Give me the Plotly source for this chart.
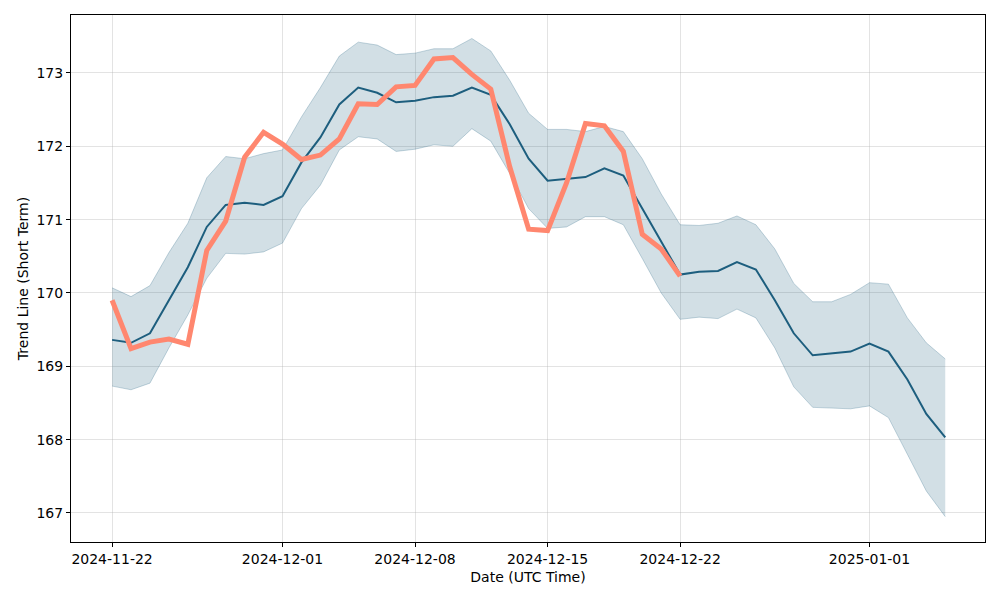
import plotly.graph_objects as go
import pandas as pd

dates = pd.date_range("2024-11-22", periods=45, freq="D").strftime("%Y-%m-%d").tolist()

trend = [169.36, 169.32, 169.45, 169.9, 170.35, 170.9, 171.2, 171.23, 171.2, 171.32,
         171.78, 172.12, 172.57, 172.8, 172.73, 172.6, 172.62, 172.67, 172.69, 172.8,
         172.7, 172.3, 171.83, 171.53, 171.56, 171.58, 171.7, 171.6, 171.15, 170.7,
         170.25, 170.29, 170.3, 170.42, 170.32, 169.9, 169.45, 169.15, 169.18, 169.2,
         169.31, 169.2, 168.82, 168.35, 168.03]

upper = [170.07, 169.95, 170.1, 170.55, 170.95, 171.57, 171.86, 171.83, 171.9, 171.95,
         172.4, 172.8, 173.23, 173.42, 173.38, 173.25, 173.27, 173.33, 173.33, 173.47,
         173.3, 172.9, 172.45, 172.23, 172.23, 172.2, 172.27, 172.2, 171.83, 171.35,
         170.93, 170.92, 170.95, 171.05, 170.93, 170.6, 170.13, 169.88, 169.88, 169.98,
         170.14, 170.12, 169.66, 169.32, 169.1]

lower = [168.73, 168.68, 168.77, 169.25, 169.7, 170.2, 170.54, 170.53, 170.56, 170.68,
         171.15, 171.47, 171.95, 172.13, 172.1, 171.93, 171.96, 172.02, 172.0, 172.24,
         172.07, 171.63, 171.15, 170.88, 170.9, 171.04, 171.04, 170.93, 170.47, 170.0,
         169.64, 169.67, 169.65, 169.78, 169.66, 169.25, 168.72, 168.44, 168.43, 168.42,
         168.46, 168.3, 167.8, 167.3, 166.95]

actual = [169.9, 169.24, 169.33, 169.37, 169.3, 170.58, 170.98, 171.85, 172.19, 172.03,
          171.82, 171.88, 172.1, 172.58, 172.57, 172.81, 172.83, 173.19, 173.21, 172.98,
          172.78, 171.72, 170.87, 170.85, 171.5, 172.31, 172.28, 171.93, 170.8, 170.6,
          170.23]

xtick_vals = ["2024-11-22", "2024-12-01", "2024-12-08", "2024-12-15", "2024-12-22", "2025-01-01"]
ytick_vals = [167, 168, 169, 170, 171, 172, 173]

band_edge = "rgba(31,95,127,0.25)"
band_fill = "rgba(31,95,127,0.2)"

fig = go.Figure()
fig.add_trace(go.Scatter(x=dates, y=upper, mode="lines",
                         line=dict(color=band_edge, width=1), showlegend=False, hoverinfo="skip"))
fig.add_trace(go.Scatter(x=dates, y=lower, mode="lines", fill="tonexty", fillcolor=band_fill,
                         line=dict(color=band_edge, width=1), showlegend=False, hoverinfo="skip"))
fig.add_trace(go.Scatter(x=dates, y=trend, mode="lines",
                         line=dict(color="#1d5e7e", width=2), showlegend=False))
fig.add_trace(go.Scatter(x=dates[:len(actual)], y=actual, mode="lines",
                         line=dict(color="#ff876f", width=5), showlegend=False))

axis_common = dict(
    showline=True, linecolor="black", linewidth=1, mirror=True,
    ticks="outside", ticklen=4, tickcolor="black", tickwidth=1,
    showgrid=True, gridcolor="rgba(176,176,176,0.35)", gridwidth=1,
    zeroline=False, tickfont=dict(size=14, color="black"), automargin=False,
)

fig.update_layout(
    width=1000, height=600,
    margin=dict(l=71, r=15, t=15, b=58),
    paper_bgcolor="white", plot_bgcolor="white",
    font=dict(family="DejaVu Sans", size=14, color="black"),
    xaxis=dict(type="date", range=["2024-11-19 19:55", "2025-01-07 02:24"],
               tickvals=xtick_vals, ticktext=xtick_vals,
               title=dict(text="Date (UTC Time)", font=dict(size=14), standoff=6),
               **axis_common),
    yaxis=dict(range=[166.604, 173.79], tickvals=ytick_vals,
               ticktext=[str(v) for v in ytick_vals],
               title=dict(text="Trend Line (Short Term)", font=dict(size=14), standoff=4),
               **axis_common),
)

fig.write_html("out.html", config={"displayModeBar": False},
               post_script="document.body.style.margin='0';")
